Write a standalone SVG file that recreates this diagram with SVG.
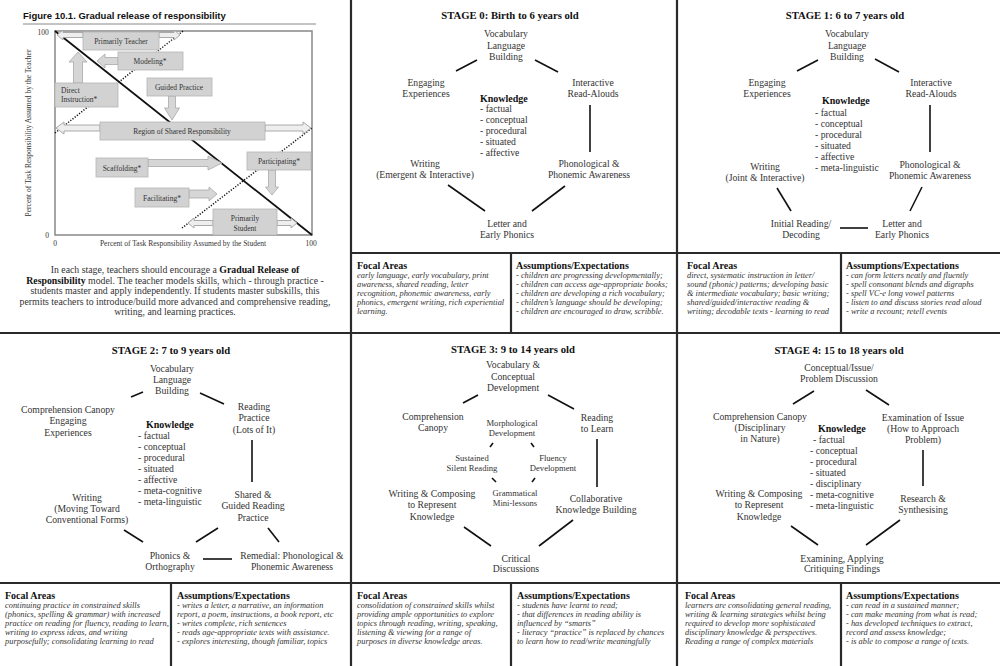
<svg xmlns="http://www.w3.org/2000/svg" width="1000" height="666" viewBox="0 0 1000 666" font-family="'Liberation Serif', 'Times New Roman', serif">
<style>
text{font-family:"Liberation Serif","Times New Roman",serif}
.t{font-size:9.7px;fill:#333;text-anchor:middle}
.k{font-size:9.7px;fill:#333}
.kb{font-size:10px;font-weight:bold;fill:#111}
.h{font-size:10.7px;font-weight:bold;fill:#111;text-anchor:middle}
.fh{font-size:10px;font-weight:bold;fill:#111}
.fi{font-size:8.4px;font-style:italic;fill:#333}
.sm{font-size:8.6px;fill:#333;text-anchor:middle}
.c{stroke:#111;stroke-width:1.6;fill:none}
.g{stroke:#2a2a2a;stroke-width:2.2;fill:none}
.ct{font-size:7.5px;fill:#333;text-anchor:middle}
.bx{fill:#d2d2d2;stroke:#b4b4b4;stroke-width:0.8}
.ar{fill:#d6d6d6;stroke:#a8a8a8;stroke-width:0.8}
.ad{fill:#eeeeee;stroke:#a0a0a0;stroke-width:0.9}
.dot{stroke:#111;stroke-width:1.5;stroke-dasharray:1.2 1.6;fill:none}
</style>

<!-- grid -->
<g id="grid">
<line class="g" x1="351" y1="0" x2="351" y2="666"/>
<line class="g" x1="677" y1="0" x2="677" y2="666"/>
<line class="g" x1="0" y1="333" x2="1000" y2="333"/>
<line class="g" x1="351" y1="253" x2="1000" y2="253"/>
<line class="g" x1="0" y1="583" x2="1000" y2="583"/>
<line class="g" x1="511" y1="253" x2="511" y2="333"/>
<line class="g" x1="841" y1="253" x2="841" y2="333"/>
<line class="g" x1="171" y1="583" x2="171" y2="666"/>
<line class="g" x1="511" y1="583" x2="511" y2="666"/>
<line class="g" x1="841" y1="583" x2="841" y2="666"/>
</g>

<!-- Figure 10.1 -->
<g id="figure">
<text x="23" y="19" style="font-family:'Liberation Sans',Arial,sans-serif;font-size:9.5px;font-weight:bold;fill:#111">Figure 10.1.  Gradual release of responsibility</text>
<line x1="23" y1="24" x2="316" y2="24" stroke="#888" stroke-width="1"/>
<rect x="55" y="31" width="257" height="204" fill="#fff" stroke="#888" stroke-width="1.5"/>
<line class="dot" x1="55" y1="133" x2="183" y2="31"/>
<line class="dot" x1="182" y1="228" x2="312" y2="128"/>
<line x1="55" y1="31" x2="312" y2="235" stroke="#111" stroke-width="1.8"/>
<polygon class="ad" points="57,35 63,30 63,32.5 83,32.5 83,37.5 63,37.5 63,40"/>
<polygon class="ad" points="180,35 174,30 174,32.5 159,32.5 159,37.5 174,37.5 174,40"/>
<polygon class="ar" points="97,61 105,54 105,57.5 118,57.5 118,64.5 105,64.5 105,68"/>
<polygon class="ar" points="78,52 87,62 82.5,62 82.5,83 73.5,83 73.5,62 69,62"/>
<polygon class="ar" points="172,120 179.5,108 175.5,108 175.5,96 168.5,96 168.5,108 164.5,108"/>
<polygon class="ad" points="56,128 64,122 64,125 100,125 100,131 64,131 64,134"/>
<polygon class="ad" points="311,128 303,122 303,125 265,125 265,131 303,131 303,134"/>
<polygon class="ar" points="222,163 208,156 208,159.5 148,159.5 148,166.5 208,166.5 208,170"/>
<polygon class="ar" points="272,195 278.5,187 275.5,187 275.5,170 268.5,170 268.5,187 265.5,187"/>
<polygon class="ar" points="217,194 209,187 209,190 189,190 189,198 209,198 209,201"/>
<polygon class="ad" points="188,223 194,218 194,220.5 213,220.5 213,225.5 194,225.5 194,228"/>
<polygon class="ad" points="297,223 291,218 291,220.5 277,220.5 277,225.5 291,225.5 291,228"/>
<rect class="bx" x="83" y="32" width="76" height="18"/>
<text class="ct" x="121" y="44">Primarily Teacher</text>
<rect class="bx" x="118" y="52" width="65" height="18"/>
<text class="ct" x="150" y="64">Modeling*</text>
<rect class="bx" x="55" y="83" width="63" height="24"/>
<text class="ct" x="61" y="93" style="text-anchor:start">Direct</text>
<text class="ct" x="61" y="102" style="text-anchor:start">Instruction*</text>
<rect class="bx" x="147" y="78" width="65" height="18"/>
<text class="ct" x="179" y="90">Guided Practice</text>
<rect class="bx" x="100" y="122" width="165" height="18"/>
<text class="ct" x="182" y="134">Region of Shared Responsibility</text>
<rect class="bx" x="96" y="158" width="52" height="19"/>
<text class="ct" x="122" y="171">Scaffolding*</text>
<rect class="bx" x="247" y="152" width="64" height="18"/>
<text class="ct" x="279" y="164">Participating*</text>
<rect class="bx" x="135" y="188" width="54" height="19"/>
<text class="ct" x="162" y="201">Facilitating*</text>
<rect class="bx" x="213" y="209" width="64" height="26"/>
<text class="ct" x="245" y="221">Primarily</text>
<text class="ct" x="245" y="231">Student</text>
<text class="ct" x="43" y="35">100</text>
<text class="ct" x="47" y="238">0</text>
<text class="ct" x="55" y="246">0</text>
<text class="ct" x="183" y="246">Percent of Task Responsibility Assumed by the Student</text>
<text class="ct" x="311" y="246">100</text>
<text class="ct" x="31" y="133" transform="rotate(-90 31 133)">Percent of Task Responsibility Assumed by the Teacher</text>
</g>

<g id="intro" style="font-size:9.8px;fill:#333;text-anchor:middle">
<text x="175" y="273"><tspan>In each stage, teachers should encourage a </tspan><tspan font-weight="bold" fill="#111">Gradual Release of</tspan></text>
<text x="175" y="283.5"><tspan font-weight="bold" fill="#111">Responsibility</tspan><tspan> model. The teacher models skills, which - through practice -</tspan></text>
<text x="175" y="294">students master and apply independently. If students master subskills, this</text>
<text x="175" y="304.5">permits teachers to introduce/build more advanced and comprehensive reading,</text>
<text x="175" y="315">writing, and learning practices.</text>
</g>

<!-- connectors -->
<g id="connectors">
<line class="c" x1="477" y1="60" x2="456" y2="71"/>
<line class="c" x1="535" y1="60" x2="558" y2="72"/>
<line class="c" x1="590" y1="105" x2="590" y2="152"/>
<line class="c" x1="448" y1="185" x2="485" y2="211"/>
<line class="c" x1="532" y1="211" x2="565" y2="186"/>

<line class="c" x1="818" y1="60" x2="797" y2="71"/>
<line class="c" x1="875" y1="59" x2="899" y2="72"/>
<line class="c" x1="930" y1="105" x2="930" y2="152"/>
<line class="c" x1="777" y1="188" x2="791" y2="211"/>
<line class="c" x1="922" y1="187" x2="910" y2="211"/>
<line class="c" x1="840" y1="228" x2="868" y2="228"/>

<line class="c" x1="143" y1="392" x2="131" y2="397"/>
<line class="c" x1="200" y1="393" x2="224" y2="404"/>
<line class="c" x1="252" y1="440" x2="252" y2="482"/>
<line class="c" x1="124" y1="530" x2="143" y2="542"/>
<line class="c" x1="218" y1="528" x2="196" y2="542"/>
<line class="c" x1="268" y1="528" x2="279" y2="542"/>
<line class="c" x1="203" y1="559" x2="232" y2="559"/>

<line class="c" x1="478" y1="395" x2="463" y2="403"/>
<line class="c" x1="548" y1="395" x2="574" y2="409"/>
<line class="c" x1="597" y1="439" x2="597" y2="487"/>
<line class="c" x1="464" y1="527" x2="491" y2="546"/>
<line class="c" x1="539" y1="546" x2="573" y2="520"/>
<line class="c" x1="493" y1="443" x2="490" y2="447"/>
<line class="c" x1="531" y1="443" x2="534" y2="447"/>
<line class="c" x1="492" y1="478" x2="496" y2="482"/>
<line class="c" x1="535" y1="478" x2="532" y2="482"/>

<line class="c" x1="814" y1="391" x2="793" y2="404"/>
<line class="c" x1="866" y1="390" x2="889" y2="405"/>
<line class="c" x1="923" y1="450" x2="923" y2="486"/>
<line class="c" x1="791" y1="526" x2="818" y2="545"/>
<line class="c" x1="866" y1="545" x2="900" y2="520"/>
</g>

<!-- STAGE 0 -->
<g id="stage0">
<text class="h" x="510" y="19">STAGE 0: Birth to 6 years old</text>
<g id="s0-vocab"><text class="t"><tspan x="506" y="37">Vocabulary</tspan><tspan x="506" y="48.5">Language</tspan><tspan x="506" y="60">Building</tspan></text></g>
<g id="s0-engaging"><text class="t"><tspan x="426" y="85.5">Engaging</tspan><tspan x="426" y="97">Experiences</tspan></text></g>
<g id="s0-interactive"><text class="t"><tspan x="593" y="85.5">Interactive</tspan><tspan x="593" y="97">Read-Alouds</tspan></text></g>
<g id="s0-knowledge"><text class="kb" x="480" y="101.5">Knowledge</text>
<text class="k"><tspan x="480" y="111.5">- factual</tspan><tspan x="480" y="122.5">- conceptual</tspan><tspan x="480" y="133.5">- procedural</tspan><tspan x="480" y="144.5">- situated</tspan><tspan x="480" y="156">- affective</tspan></text></g>
<g id="s0-writing"><text class="t"><tspan x="425" y="166.5">Writing</tspan><tspan x="425" y="178">(Emergent &amp; Interactive)</tspan></text></g>
<g id="s0-phono"><text class="t"><tspan x="589" y="166.5">Phonological &amp;</tspan><tspan x="589" y="178">Phonemic Awareness</tspan></text></g>
<g id="s0-letter"><text class="t"><tspan x="507" y="226.5">Letter and</tspan><tspan x="507" y="238">Early Phonics</tspan></text></g>
<g id="s0-focal"><text class="fh" x="357" y="268.5">Focal Areas</text>
<text class="fi"><tspan x="357" y="278">early language, early vocabulary, print</tspan><tspan x="357" y="287">awareness, shared reading, letter</tspan><tspan x="357" y="296">recognition, phonemic awareness, early</tspan><tspan x="357" y="305">phonics, emergent writing, rich experiential</tspan><tspan x="357" y="314">learning.</tspan></text></g>
<g id="s0-assump"><text class="fh" x="516" y="268.5">Assumptions/Expectations</text>
<text class="fi"><tspan x="516" y="278">- children are progressing developmentally;</tspan><tspan x="516" y="287">- children can access age-appropriate books;</tspan><tspan x="516" y="296">- children are developing a rich vocabulary;</tspan><tspan x="516" y="305">- children’s language should be developing;</tspan><tspan x="516" y="314">- children are encouraged to draw, scribble.</tspan></text></g>
</g>

<!-- STAGE 1 -->
<g id="stage1">
<text class="h" x="845" y="19">STAGE 1: 6 to 7 years old</text>
<g id="s1-vocab"><text class="t"><tspan x="847" y="37">Vocabulary</tspan><tspan x="847" y="48.5">Language</tspan><tspan x="847" y="60">Building</tspan></text></g>
<g id="s1-engaging"><text class="t"><tspan x="767" y="85.5">Engaging</tspan><tspan x="767" y="97">Experiences</tspan></text></g>
<g id="s1-interactive"><text class="t"><tspan x="931" y="85.5">Interactive</tspan><tspan x="931" y="97">Read-Alouds</tspan></text></g>
<g id="s1-knowledge"><text class="kb" x="822" y="103.5">Knowledge</text>
<text class="k"><tspan x="815" y="115.5">- factual</tspan><tspan x="815" y="126.5">- conceptual</tspan><tspan x="815" y="137.5">- procedural</tspan><tspan x="815" y="148.5">- situated</tspan><tspan x="815" y="159.5">- affective</tspan><tspan x="815" y="170.5">- meta-linguistic</tspan></text></g>
<g id="s1-writing"><text class="t"><tspan x="765" y="169.5">Writing</tspan><tspan x="765" y="181">(Joint &amp; Interactive)</tspan></text></g>
<g id="s1-phono"><text class="t"><tspan x="930" y="167.5">Phonological &amp;</tspan><tspan x="930" y="179">Phonemic Awareness</tspan></text></g>
<g id="s1-initial"><text class="t"><tspan x="801" y="226.5">Initial Reading/</tspan><tspan x="801" y="238">Decoding</tspan></text></g>
<g id="s1-letter"><text class="t"><tspan x="902" y="226.5">Letter and</tspan><tspan x="902" y="238">Early Phonics</tspan></text></g>
<g id="s1-focal"><text class="fh" x="687" y="268.5">Focal Areas</text>
<text class="fi"><tspan x="687" y="278">direct, systematic instruction in letter/</tspan><tspan x="687" y="287">sound (phonic) patterns; developing basic</tspan><tspan x="687" y="296">&amp; intermediate vocabulary; basic writing;</tspan><tspan x="687" y="305">shared/guided/interactive reading &amp;</tspan><tspan x="687" y="314">writing; decodable texts - learning to read</tspan></text></g>
<g id="s1-assump"><text class="fh" x="846" y="268.5">Assumptions/Expectations</text>
<text class="fi"><tspan x="846" y="278">- can form letters neatly and fluently</tspan><tspan x="846" y="287">- spell consonant blends and digraphs</tspan><tspan x="846" y="296">- spell VC-e long vowel patterns</tspan><tspan x="846" y="305">- listen to and discuss stories read aloud</tspan><tspan x="846" y="314">- write a recount; retell events</tspan></text></g>
</g>

<!-- STAGE 2 -->
<g id="stage2">
<text class="h" x="171" y="353.5">STAGE 2: 7 to 9 years old</text>
<g id="s2-vocab"><text class="t"><tspan x="172" y="371.5">Vocabulary</tspan><tspan x="172" y="382.5">Language</tspan><tspan x="172" y="393.5">Building</tspan></text></g>
<g id="s2-comp"><text class="t"><tspan x="68" y="412.5">Comprehension Canopy</tspan><tspan x="68" y="424">Engaging</tspan><tspan x="68" y="435.5">Experiences</tspan></text></g>
<g id="s2-reading"><text class="t"><tspan x="254" y="409.5">Reading</tspan><tspan x="254" y="421">Practice</tspan><tspan x="254" y="432.5">(Lots of It)</tspan></text></g>
<g id="s2-knowledge"><text class="kb" x="146" y="427.5">Knowledge</text>
<text class="k"><tspan x="138" y="438.5">- factual</tspan><tspan x="138" y="449.5">- conceptual</tspan><tspan x="138" y="460.5">- procedural</tspan><tspan x="138" y="471.5">- situated</tspan><tspan x="138" y="482.5">- affective</tspan><tspan x="138" y="493.5">- meta-cognitive</tspan><tspan x="138" y="504.5">- meta-linguistic</tspan></text></g>
<g id="s2-writing"><text class="t"><tspan x="87" y="500.5">Writing</tspan><tspan x="87" y="511.5">(Moving Toward</tspan><tspan x="87" y="522.5">Conventional Forms)</tspan></text></g>
<g id="s2-shared"><text class="t"><tspan x="253" y="497.5">Shared &amp;</tspan><tspan x="253" y="509">Guided Reading</tspan><tspan x="253" y="520.5">Practice</tspan></text></g>
<g id="s2-phonics"><text class="t"><tspan x="170" y="558.5">Phonics &amp;</tspan><tspan x="170" y="569.5">Orthography</tspan></text></g>
<g id="s2-remedial"><text class="t"><tspan x="292" y="558.5">Remedial: Phonological &amp;</tspan><tspan x="292" y="569.5">Phonemic Awareness</tspan></text></g>
<g id="s2-focal"><text class="fh" x="5" y="598.5">Focal Areas</text>
<text class="fi"><tspan x="5" y="608">continuing practice in constrained skills</tspan><tspan x="5" y="617">(phonics, spelling &amp; grammar) with increased</tspan><tspan x="5" y="626">practice on reading for fluency, reading to learn,</tspan><tspan x="5" y="635">writing to express ideas, and writing</tspan><tspan x="5" y="644">purposefully; consolidating learning to read</tspan></text></g>
<g id="s2-assump"><text class="fh" x="177" y="598.5">Assumptions/Expectations</text>
<text class="fi"><tspan x="177" y="608">- writes a letter, a narrative, an information</tspan><tspan x="177" y="617">report, a poem, instructions, a book report, etc</tspan><tspan x="177" y="626">- writes complete, rich sentences</tspan><tspan x="177" y="635">- reads age-appropriate texts with assistance.</tspan><tspan x="177" y="644">- explores interesting, though familiar, topics</tspan></text></g>
</g>

<!-- STAGE 3 -->
<g id="stage3">
<text class="h" x="513" y="352.5">STAGE 3: 9 to 14 years old</text>
<g id="s3-vocab"><text class="t"><tspan x="513" y="368">Vocabulary &amp;</tspan><tspan x="513" y="379.5">Conceptual</tspan><tspan x="513" y="391">Development</tspan></text></g>
<g id="s3-comp"><text class="t"><tspan x="433" y="419.5">Comprehension</tspan><tspan x="433" y="431">Canopy</tspan></text></g>
<g id="s3-reading"><text class="t"><tspan x="597" y="420.5">Reading</tspan><tspan x="597" y="432">to Learn</tspan></text></g>
<g id="s3-morph"><text class="sm"><tspan x="512" y="426">Morphological</tspan><tspan x="512" y="436">Development</tspan></text></g>
<g id="s3-ssr"><text class="sm"><tspan x="472" y="461">Sustained</tspan><tspan x="472" y="470.5">Silent Reading</tspan></text></g>
<g id="s3-fluency"><text class="sm"><tspan x="553" y="461">Fluency</tspan><tspan x="553" y="471">Development</tspan></text></g>
<g id="s3-gram"><text class="sm"><tspan x="515" y="496">Grammatical</tspan><tspan x="515" y="506">Mini-lessons</tspan></text></g>
<g id="s3-writing"><text class="t"><tspan x="432" y="496.5">Writing &amp; Composing</tspan><tspan x="432" y="508">to Represent</tspan><tspan x="432" y="519.5">Knowledge</tspan></text></g>
<g id="s3-collab"><text class="t"><tspan x="596" y="501.5">Collaborative</tspan><tspan x="596" y="513">Knowledge Building</tspan></text></g>
<g id="s3-critical"><text class="t"><tspan x="516" y="561.5">Critical</tspan><tspan x="516" y="572">Discussions</tspan></text></g>
<g id="s3-focal"><text class="fh" x="357" y="598.5">Focal Areas</text>
<text class="fi"><tspan x="357" y="608">consolidation of constrained skills whilst</tspan><tspan x="357" y="617">providing ample opportunities to explore</tspan><tspan x="357" y="626">topics through reading, writing, speaking,</tspan><tspan x="357" y="635">listening &amp; viewing for a range of</tspan><tspan x="357" y="644">purposes in diverse knowledge areas.</tspan></text></g>
<g id="s3-assump"><text class="fh" x="517" y="598.5">Assumptions/Expectations</text>
<text class="fi"><tspan x="517" y="608">- students have learnt to read;</tspan><tspan x="517" y="617">- that differences in reading ability is</tspan><tspan x="517" y="626">influenced by “smarts”</tspan><tspan x="517" y="635">- literacy “practice” is replaced by chances</tspan><tspan x="517" y="644">to learn how to read/write meaningfully</tspan></text></g>
</g>

<!-- STAGE 4 -->
<g id="stage4">
<text class="h" x="839" y="353.5">STAGE 4: 15 to 18 years old</text>
<g id="s4-concept"><text class="t"><tspan x="839" y="371">Conceptual/Issue/</tspan><tspan x="839" y="382">Problem Discussion</tspan></text></g>
<g id="s4-comp"><text class="t"><tspan x="760" y="419.5">Comprehension Canopy</tspan><tspan x="760" y="430.5">(Disciplinary</tspan><tspan x="760" y="441.5">in Nature)</tspan></text></g>
<g id="s4-exam"><text class="t"><tspan x="923" y="420.5">Examination of Issue</tspan><tspan x="923" y="431.5">(How to Approach</tspan><tspan x="923" y="442.5">Problem)</tspan></text></g>
<g id="s4-knowledge"><text class="kb" x="818" y="431.5">Knowledge</text>
<text class="k"><tspan x="813" y="442.5">- factual</tspan><tspan x="810" y="453.5">- conceptual</tspan><tspan x="810" y="464.5">- procedural</tspan><tspan x="810" y="475.5">- situated</tspan><tspan x="810" y="486.5">- disciplinary</tspan><tspan x="810" y="497.5">- meta-cognitive</tspan><tspan x="810" y="509">- meta-linguistic</tspan></text></g>
<g id="s4-writing"><text class="t"><tspan x="759" y="496.5">Writing &amp; Composing</tspan><tspan x="759" y="508">to Represent</tspan><tspan x="759" y="519.5">Knowledge</tspan></text></g>
<g id="s4-research"><text class="t"><tspan x="923" y="501.5">Research &amp;</tspan><tspan x="923" y="513">Synthesising</tspan></text></g>
<g id="s4-examining"><text class="t"><tspan x="842" y="561.5">Examining, Applying</tspan><tspan x="842" y="572">Critiquing Findings</tspan></text></g>
<g id="s4-focal"><text class="fh" x="685" y="598.5">Focal Areas</text>
<text class="fi"><tspan x="685" y="608">learners are consolidating general reading,</tspan><tspan x="685" y="617">writing &amp; learning strategies whilst being</tspan><tspan x="685" y="626">required to develop more sophisticated</tspan><tspan x="685" y="635">disciplinary knowledge &amp; perspectives.</tspan><tspan x="685" y="644">Reading a range of complex materials</tspan></text></g>
<g id="s4-assump"><text class="fh" x="846" y="598.5">Assumptions/Expectations</text>
<text class="fi"><tspan x="846" y="608">- can read in a sustained manner;</tspan><tspan x="846" y="617">- can make meaning from what is read;</tspan><tspan x="846" y="626">- has developed techniques to extract,</tspan><tspan x="846" y="635">record and assess knowledge;</tspan><tspan x="846" y="644">- is able to compose a range of texts.</tspan></text></g>
</g>
</svg>
